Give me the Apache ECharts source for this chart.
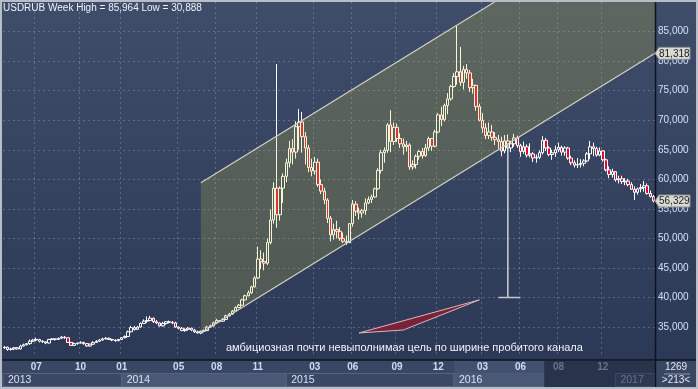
<!DOCTYPE html>
<html><head><meta charset="utf-8">
<script src="https://cdn.jsdelivr.net/npm/echarts@6/dist/echarts.min.js"></script>
<style>html,body{margin:0;padding:0;background:#2e3a56;overflow:hidden}#c{width:698px;height:389px}</style>
</head><body><div id="c"></div>
<script>
// ---- data (USD/RUB weekly, rubles) ----
const firstWeek = '2013-04-22';
const opens = [
31.5,31.6,31.2,31.3,31.5,31.3,31.8,32.0,32.2,32.6,
32.8,32.9,32.6,32.5,32.3,32.9,33.0,32.9,33.1,33.3,
33.2,32.4,31.9,32.2,32.3,32.4,32.2,31.8,32.1,32.4,
32.6,32.8,33.0,33.1,32.9,32.8,32.7,32.9,33.2,33.4,
34.2,34.9,34.6,35.0,35.6,36.0,36.1,36.5,35.9,35.7,
35.2,35.6,35.9,35.8,35.7,35.0,34.8,34.4,34.6,34.8,
34.5,34.2,34.0,34.3,34.4,35.0,35.2,35.7,36.1,36.0,
36.3,36.9,37.2,37.7,38.3,38.7,39.6,40.3,40.8,41.8,
43.3,46.5,46.1,45.8,49.3,53.1,58.5,54.0,58.5,60.5,
62.8,65.2,64.6,68.9,69.7,67.2,65.3,62.0,61.4,62.9,
59.1,58.0,56.5,53.4,50.6,51.5,51.2,50.0,49.5,49.3,
52.5,55.8,54.6,54.3,54.7,56.0,56.6,57.0,58.4,61.5,
64.5,64.9,69.2,66.4,68.8,66.9,66.0,65.5,65.8,62.1,
62.5,63.9,64.7,64.0,65.3,66.9,65.6,68.0,70.9,70.1,
72.5,73.6,75.7,77.4,78.2,76.4,78.6,78.0,75.5,75.9,
72.3,70.0,68.7,67.4,68.0,67.1,66.7,66.4,64.8,66.5,
65.3,66.0,67.0,65.7,64.7,65.5,64.1,64.3,63.6,63.7,
64.5,66.6,65.3,64.2,64.5,65.0,65.4,64.6,65.3,63.6,
62.8,62.4,62.5,62.7,63.1,64.3,65.5,65.2,64.1,64.8,
63.3,61.6,60.8,61.3,59.9,60.1,59.6,59.7,59.1,58.3,
57.8,58.4,58.6,58.9,57.6,57.1];
const highs = [
31.8,31.7,31.5,31.6,31.6,32.0,32.2,32.3,32.9,33.0,
33.2,33.0,32.8,32.6,33.0,33.1,33.1,33.2,33.5,33.5,
33.2,32.5,32.4,32.4,32.6,32.5,32.3,32.2,32.6,32.8,
33.0,33.2,33.3,33.2,33.0,32.9,33.0,33.3,33.6,34.4,
35.2,35.2,35.2,35.8,36.3,36.8,36.9,36.6,36.2,35.8,
35.9,36.0,36.1,36.0,35.9,35.1,35.0,34.8,35.0,34.9,
34.7,34.4,34.4,34.6,35.2,35.4,35.9,36.4,36.2,36.5,
37.1,37.4,37.9,38.5,38.9,39.8,40.5,41.2,42.0,43.6,
48.6,48.0,47.6,50.0,54.9,59.5,79.5,58.8,61.0,63.5,
66.5,66.8,69.8,71.9,71.4,68.0,65.8,63.5,63.8,63.5,
60.0,58.6,56.8,53.8,52.5,53.0,51.9,51.0,50.5,52.6,
56.5,56.3,55.2,55.0,56.8,57.1,57.4,58.6,61.9,65.0,
65.4,69.5,71.7,69.6,69.4,67.8,66.9,66.5,66.1,63.2,
64.2,65.0,65.3,66.0,67.2,67.0,68.4,71.2,72.3,72.8,
74.6,76.0,78.0,85.964,82.4,79.2,79.5,78.5,77.0,76.0,
72.8,71.2,69.5,69.6,69.2,68.0,67.5,67.2,67.5,67.6,
66.5,67.7,67.4,66.0,66.4,65.9,66.1,64.6,64.2,64.9,
67.3,67.0,65.6,65.0,65.7,66.2,65.7,65.6,65.5,64.0,
63.2,63.6,63.4,63.4,64.6,66.5,66.2,65.5,65.4,64.9,
63.5,62.2,61.8,61.4,60.6,60.6,60.2,60.1,59.5,58.8,
58.6,59.2,59.7,59.3,58.1,57.3];
const lows = [
31.3,31.0,31.0,31.1,31.2,31.2,31.7,31.9,32.0,32.5,
32.6,32.4,32.3,32.1,32.2,32.8,32.7,32.8,33.0,33.0,
32.3,31.8,31.8,32.0,32.2,32.0,31.7,31.7,32.0,32.3,
32.5,32.7,32.9,32.8,32.6,32.5,32.6,32.8,33.1,33.3,
34.1,34.4,34.5,34.9,35.5,35.7,36.0,35.7,35.5,35.1,
35.1,35.4,35.6,35.5,34.9,34.6,34.3,34.2,34.4,34.3,
34.0,33.9,33.8,34.1,34.3,34.9,35.1,35.6,35.8,35.9,
36.2,36.8,37.1,37.6,38.2,38.6,39.5,40.2,40.6,41.7,
43.1,44.8,44.6,45.5,49.0,52.5,51.8,53.0,56.0,59.5,
62.0,62.5,63.5,65.0,64.5,62.5,61.2,60.5,60.8,58.7,
57.5,55.8,52.6,49.5,49.8,50.0,49.6,49.2,48.9,49.2,
52.0,53.8,53.2,53.5,54.0,55.8,56.0,56.9,58.2,61.0,
62.8,64.5,64.6,65.8,66.3,65.3,64.2,64.7,61.6,61.6,
61.8,63.3,63.5,63.8,64.8,64.8,65.4,67.8,69.0,69.8,
71.0,73.3,75.5,76.0,75.8,75.2,77.0,74.8,74.5,71.6,
69.8,67.9,66.8,66.8,66.5,65.8,65.2,63.9,64.4,64.6,
64.6,65.5,65.3,63.8,64.3,63.7,63.7,62.9,62.8,63.4,
64.2,64.8,63.9,63.3,63.8,64.6,64.0,64.0,63.3,62.4,
62.0,61.9,62.0,62.2,62.9,63.4,63.9,63.8,63.9,63.0,
61.3,60.2,60.3,59.6,59.3,59.2,59.0,58.8,58.3,56.5,
57.4,57.8,57.9,57.4,56.9,56.1];
const closes = [
31.6,31.2,31.3,31.5,31.3,31.8,32.0,32.2,32.6,32.8,
32.9,32.6,32.5,32.3,32.9,33.0,32.9,33.1,33.3,33.2,
32.4,31.9,32.2,32.3,32.4,32.2,31.8,32.1,32.4,32.6,
32.8,33.0,33.1,32.9,32.8,32.7,32.9,33.2,33.4,34.2,
34.9,34.6,35.0,35.6,36.0,36.1,36.5,35.9,35.7,35.2,
35.6,35.9,35.8,35.7,35.0,34.8,34.4,34.6,34.8,34.5,
34.2,34.0,34.3,34.4,35.0,35.2,35.7,36.1,36.0,36.3,
36.9,37.2,37.7,38.3,38.7,39.6,40.3,40.8,41.8,43.3,
46.5,46.1,45.8,49.3,53.1,58.5,54.0,58.5,60.5,62.8,
65.2,64.6,68.9,69.7,67.2,65.3,62.0,61.4,62.9,59.1,
58.0,56.5,53.4,50.6,51.5,51.2,50.0,49.5,49.3,52.5,
55.8,54.6,54.3,54.7,56.0,56.6,57.0,58.4,61.5,64.5,
64.9,69.2,66.4,68.8,66.9,66.0,65.5,65.8,62.1,62.5,
63.9,64.7,64.0,65.3,66.9,65.6,68.0,70.9,70.1,72.5,
73.6,75.7,77.4,78.2,76.4,78.6,78.0,75.5,75.9,72.3,
70.0,68.7,67.4,68.0,67.1,66.7,66.4,64.8,66.5,65.3,
66.0,67.0,65.7,64.7,65.5,64.1,64.3,63.6,63.7,64.5,
66.6,65.3,64.2,64.5,65.0,65.4,64.6,65.3,63.6,62.8,
62.4,62.5,62.7,63.1,64.3,65.5,65.2,64.1,64.8,63.3,
61.6,60.8,61.3,59.9,60.1,59.6,59.7,59.1,58.3,57.8,
58.4,58.6,58.9,57.6,57.1,56.329];

// axis labels
const monthTickWeeks = ['2013-07-01','2013-10-07','2014-01-06','2014-05-12','2014-08-04','2014-11-03','2015-03-09','2015-06-01','2015-09-07','2015-12-07','2016-03-14','2016-06-06','2016-08-29','2016-12-05'];
const dimFromWeek = '2016-08-01';
const yearStartWeeks = ['2013-04-22','2014-01-06','2015-01-05','2016-01-11','2017-01-02'];
const yearLabels = ['2013','2014','2015','2016','2017'];
const titleText = 'USDRUB Week High = 85,964 Low = 30,888';
const noteText = 'амбициозная почти невыполнимая цель по ширине пробитого канала';
const cornerTop = '1269', cornerBottom = '>213<';

// annotation drawing (chart values)
const channelStartWeek = '2014-06-30', channelEndWeek = '2017-03-27';
const channelLowerStart = 34.0, channelLowerEnd = 81.15, channelUpperStart = 59.4;
const channelEdgeValue = 81.318;
const triangleWeeks = ['2015-06-15','2015-09-21','2016-03-07'];
const triangleValues = [34.0, 34.5, 39.6];
const measureWeek = '2016-05-09', measureBottom = 40.0;
const capFromWeek = '2016-04-18', capToWeek = '2016-06-06';

// ---- build ----
const n = closes.length;
const weeks = [];
const t0 = Date.parse(firstWeek + 'T00:00:00Z');
for (let i = 0; i < n; i++) weeks.push(new Date(t0 + i * 7 * 86400000).toISOString().slice(0, 10));
const idx = w => weeks.indexOf(w);
const candleData = weeks.map((w, i) => [opens[i], closes[i], lows[i], highs[i]]);
const monthSet = new Set(monthTickWeeks);
const fmtNum = v => v.toFixed(3).replace('.', ',');
const FONT = '"Liberation Sans", Arial, sans-serif';

function renderOverlay(params, api) {
  const cs = params.coordSys;
  const i0 = idx(channelStartWeek), i1 = idx(channelEndWeek);
  const a = api.coord([i0, channelLowerStart]);
  const b = api.coord([i1, channelLowerEnd]);
  const u = api.coord([i0, channelUpperStart]);
  const k = (b[1] - a[1]) / (b[0] - a[0]);
  const xr = cs.x + cs.width;
  const yl = a[1] + k * (xr - a[0]);
  const xt = u[0] + (cs.y - u[1]) / k;
  const poly = [[a[0], a[1]], [u[0], u[1]], [xt, cs.y], [xr, cs.y], [xr, yl]];
  const tri = triangleWeeks.map((w, j) => api.coord([idx(w), triangleValues[j]]));
  const mb = api.coord([idx(measureWeek), measureBottom]);
  const mTop = a[1] + k * (mb[0] - a[0]);
  const c0 = api.coord([idx(capFromWeek), measureBottom]);
  const c1 = api.coord([idx(capToWeek), measureBottom]);
  return { type: 'group', children: [
    { type: 'polygon', shape: { points: poly }, style: { fill: 'rgba(210,205,60,0.21)' } },
    { type: 'line', shape: { x1: a[0], y1: a[1], x2: xr, y2: yl }, style: { stroke: '#d2d2c2', lineWidth: 1.2 } },
    { type: 'line', shape: { x1: u[0], y1: u[1], x2: xt, y2: cs.y }, style: { stroke: '#d2d2c2', lineWidth: 1.2 } },
    { type: 'polygon', shape: { points: tri }, style: { fill: '#7a2238', stroke: '#dcb6be', lineWidth: 1 } },
    { type: 'line', shape: { x1: mb[0], y1: mTop, x2: mb[0], y2: mb[1] }, style: { stroke: '#cfd0d2', lineWidth: 1.5 } },
    { type: 'line', shape: { x1: c0[0], y1: c0[1], x2: c1[0], y2: c1[1] }, style: { stroke: '#c4c6c8', lineWidth: 1.5 } }
  ]};
}

const chart = echarts.init(document.getElementById('c'), null, { renderer: 'canvas', width: 698, height: 389 });
chart.setOption({
  animation: false,
  backgroundColor: { type: 'linear', x: 0, y: 0, x2: 0, y2: 389, global: true,
    colorStops: [{ offset: 0, color: '#3f4c6a' }, { offset: 0.925, color: '#2b3856' }, { offset: 0.9255, color: '#3a4763' }, { offset: 1, color: '#3a4763' }] },
  title: { text: titleText, left: 3, top: 3, padding: 0,
    textStyle: { color: '#eef2f8', fontSize: 10, fontWeight: 'normal', fontFamily: FONT } },
  grid: { left: 3, top: 2, width: 652, height: 354.6, outerBoundsMode: 'none', containLabel: false },
  xAxis: { type: 'category', data: weeks, boundaryGap: true,
    axisLine: { show: false }, axisTick: { show: false },
    axisLabel: { interval: (i, v) => monthSet.has(v), margin: 6, fontSize: 10, fontWeight: 'bold', fontFamily: FONT, color: '#cddcf5',
      formatter: v => v >= dimFromWeek ? '{d|' + v.slice(5, 7) + '}' : v.slice(5, 7),
      rich: { d: { color: '#66748e', fontSize: 10, fontWeight: 'bold', fontFamily: FONT } } },
    splitLine: { show: true, interval: (i, v) => monthSet.has(v), lineStyle: { color: 'rgba(140,155,185,0.45)', type: [2, 3], width: 1 } } },
  yAxis: { type: 'value', position: 'right', min: 30, max: 90, interval: 5, scale: false,
    axisLine: { show: false }, axisTick: { show: false },
    axisLabel: { margin: 3, fontSize: 10, fontFamily: FONT, color: '#d2e0fa', formatter: fmtNum, showMinLabel: false, showMaxLabel: false },
    splitLine: { show: true, showMinLine: false, showMaxLine: false, lineStyle: { color: 'rgba(140,155,185,0.45)', type: [2, 3], width: 1 } } },
  series: [
    { type: 'candlestick', data: candleData, barWidth: 3, z: 2,
      itemStyle: { color: 'rgba(0,0,0,0)', color0: '#e3082f', borderColor: '#ffffff', borderColor0: '#ffffff', borderWidth: 1 } },
    { type: 'custom', data: [[0, 50]], encode: { x: 0, y: 1 }, renderItem: renderOverlay, silent: true, z: 5 }
  ]
});

// decorations positioned through the axes
const xc = w => chart.convertToPixel({ xAxisIndex: 0 }, w);
const yv = v => chart.convertToPixel({ yAxisIndex: 0 }, v);
const bw = 652 / n;
const g = [];
g.push({ type: 'rect', shape: { x: 0, y: 360, width: 655, height: 29 }, style: { fill: '#3a4763' }, z: -5 });
const ys = yearStartWeeks.map((w, j) => j === 0 ? 3 : xc(w));
for (let j = 0; j < ys.length; j++) {
  const x0 = ys[j], x1 = j + 1 < ys.length ? ys[j + 1] : 655;
  const light = (j % 2 === 1);
  g.push({ type: 'rect', shape: { x: x0, y: 373.5, width: x1 - x0, height: 13 },
    style: { fill: light ? '#4a5877' : '#3b4865', stroke: '#56647f', lineWidth: 1 }, z: -4 });
}
const xDim = xc(dimFromWeek) - bw / 2;
g.push({ type: 'rect', shape: { x: ys[3], y: 361, width: xDim - ys[3], height: 12.5 }, style: { fill: '#44516e' }, z: -4 });
g.push({ type: 'rect', shape: { x: xDim, y: 361, width: 655 - xDim, height: 26 }, style: { fill: '#28334c' }, z: -3 });
g.push({ type: 'rect', shape: { x: ys[4], y: 373.5, width: 655 - ys[4], height: 13 }, style: { fill: '#2d3953', stroke: '#3d4963', lineWidth: 1 }, z: -3 });
for (let j = 0; j < ys.length; j++) {
  g.push({ type: 'text', x: ys[j] + 5, y: 380.5, style: { text: yearLabels[j], fill: j === 4 ? '#66748e' : '#d8e2f2', font: '10.5px ' + FONT, verticalAlign: 'middle' }, z: 10 });
}
g.push({ type: 'line', shape: { x1: 0, y1: 360, x2: 698, y2: 360 }, style: { stroke: '#0e1320', lineWidth: 1.5 }, z: 20 });
g.push({ type: 'line', shape: { x1: 655.5, y1: 0, x2: 655.5, y2: 389 }, style: { stroke: '#0e1320', lineWidth: 1.5 }, z: 20 });
g.push({ type: 'text', x: 676, y: 367.5, style: { text: cornerTop, fill: '#e2e9f4', font: '10px ' + FONT, align: 'center', verticalAlign: 'middle' }, z: 10 });
g.push({ type: 'line', shape: { x1: 664, y1: 374, x2: 690, y2: 374 }, style: { stroke: '#8a96ad', lineWidth: 1 }, z: 10 });
g.push({ type: 'text', x: 676, y: 380.5, style: { text: cornerBottom, fill: '#e2e9f4', font: '10px ' + FONT, align: 'center', verticalAlign: 'middle' }, z: 10 });
function tag(y, txt) {
  g.push({ type: 'polygon', shape: { points: [[655, y], [659, y - 6], [690, y - 6], [690, y + 6], [659, y + 6]] },
    style: { fill: '#d9dad2', stroke: '#8f918a', lineWidth: 1 }, z: 30 });
  g.push({ type: 'text', x: 659, y: y + 0.5, style: { text: txt, fill: '#1b1d22', font: '10px ' + FONT, verticalAlign: 'middle' }, z: 31 });
}
tag(yv(channelEdgeValue), fmtNum(channelEdgeValue));
tag(yv(closes[n - 1]), fmtNum(closes[n - 1]));
g.push({ type: 'text', x: 226, y: 348, style: { text: noteText, fill: '#f2f4f8', font: '11px ' + FONT, verticalAlign: 'middle' }, z: 30 });
g.push({ type: 'rect', shape: { x: 1, y: 1, width: 696, height: 387 }, style: { fill: null, stroke: '#b9bdc5', lineWidth: 2 }, z: 40 });
chart.setOption({ graphic: { elements: g } });
</script>
</body></html>
